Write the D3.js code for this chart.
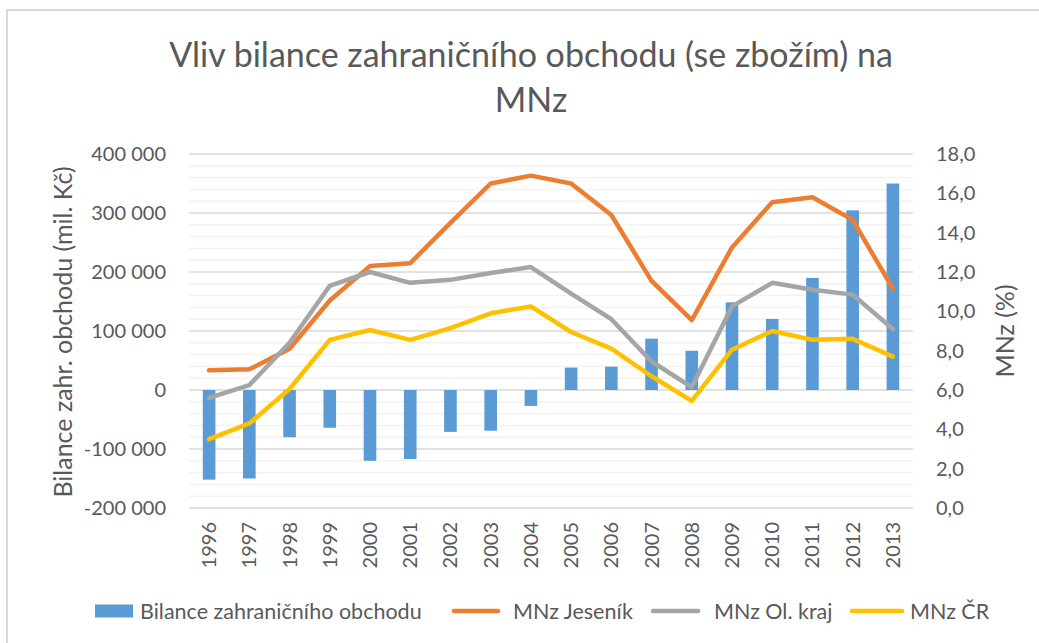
<!DOCTYPE html>
<html>
<head>
<meta charset="utf-8">
<script src="https://cdn.jsdelivr.net/npm/d3@7"></script>
<style>
  html, body { margin: 0; padding: 0; background: #fff; }
  svg { display: block; }
  text { font-family: Lato, "Open Sans", sans-serif; }
</style>
</head>
<body>
<svg id="chart" width="1039" height="643"></svg>
<script>
const years = ["1996","1997","1998","1999","2000","2001","2002","2003","2004","2005","2006","2007","2008","2009","2010","2011","2012","2013"];
const bilance = [-152000,-150000,-80000,-64000,-120000,-117000,-71000,-69000,-27000,38000,39500,87000,66500,148500,120500,190000,304500,350000];
const mnzJesenik = [7.0,7.05,8.1,10.55,12.3,12.45,14.5,16.5,16.9,16.5,14.9,11.55,9.55,13.25,15.55,15.8,14.65,11.15];
const mnzOlKraj = [5.6,6.25,8.4,11.3,12.0,11.45,11.6,11.95,12.25,10.9,9.6,7.45,6.15,10.25,11.45,11.1,10.85,9.1];
const mnzCR = [3.5,4.3,6.05,8.55,9.05,8.55,9.15,9.9,10.25,8.95,8.1,6.7,5.45,8.05,9.0,8.55,8.6,7.7];
const leftTicks = [-200000,-100000,0,100000,200000,300000,400000];
const rightTicks = [0,2,4,6,8,10,12,14,16,18];
const titleLines = ["Vliv bilance zahraničního obchodu (se zbožím) na","MNz"];
const leftTitle = "Bilance zahr. obchodu (mil. Kč)";
const rightTitle = "MNz (%)";
const seriesNames = ["Bilance zahraničního obchodu","MNz Jeseník","MNz Ol. kraj","MNz ČR"];
const colors = ["#5B9BD5","#ED7D31","#A5A5A5","#FFC000"];

const svg = d3.select("#chart");
const plot = {left: 189, right: 913, top: 154, bottom: 508};
const textColor = "#595959";
const fmtLeft = v => d3.format(",")(Math.abs(v)).replace(/,/g, "\u00a0").replace(/^/, v < 0 ? "-" : "");
const fmtRight = v => d3.format(".1f")(v).replace(".", ",");

// chart border
svg.append("rect").attr("x", 7).attr("y", 10).attr("width", 1200).attr("height", 800)
  .attr("fill", "#fff").attr("stroke", "#D9D9D9").attr("stroke-width", 2);

const x = d3.scaleBand().domain(years).range([plot.left, plot.right]).paddingInner(0).paddingOuter(0);
const yL = d3.scaleLinear().domain([-200000, 400000]).range([plot.bottom, plot.top]);
const yR = d3.scaleLinear().domain([0, 18]).range([plot.bottom, plot.top]);

// minor gridlines
const minor = d3.range(-200000, 400001, 20000).filter(v => v % 100000 !== 0);
svg.append("g").selectAll("line").data(minor).join("line")
  .attr("x1", plot.left).attr("x2", plot.right)
  .attr("y1", d => yL(d)).attr("y2", d => yL(d))
  .attr("stroke", "#F2F2F2").attr("stroke-width", 1.5);
// major gridlines
svg.append("g").selectAll("line").data(leftTicks).join("line")
  .attr("x1", plot.left).attr("x2", plot.right)
  .attr("y1", d => yL(d)).attr("y2", d => yL(d))
  .attr("stroke", "#D9D9D9").attr("stroke-width", 1.5);

// bars
const barW = x.bandwidth() / 3.19;
svg.append("g").selectAll("rect").data(bilance).join("rect")
  .attr("x", (d, i) => x(years[i]) + x.bandwidth() / 2 - barW / 2)
  .attr("width", barW)
  .attr("y", d => Math.min(yL(d), yL(0)))
  .attr("height", d => Math.abs(yL(d) - yL(0)))
  .attr("fill", colors[0]);

// lines
const lineGen = d3.line().x((d, i) => x(years[i]) + x.bandwidth() / 2).y(d => yR(d));
[mnzJesenik, mnzOlKraj, mnzCR].forEach((s, k) => {
  svg.append("path").datum(s).attr("d", lineGen)
    .attr("fill", "none").attr("stroke", colors[k + 1]).attr("stroke-width", 4.5)
    .attr("stroke-linejoin", "round").attr("stroke-linecap", "round");
});

// left axis
const axL = svg.append("g").attr("transform", `translate(${plot.left},0)`)
  .call(d3.axisLeft(yL).tickValues(leftTicks).tickFormat(fmtLeft).tickSize(0).tickPadding(23));
axL.select(".domain").remove();
axL.selectAll("text").attr("fill", textColor).style("font-size", "20px").style("font-family", "Lato");

// right axis
const axR = svg.append("g").attr("transform", `translate(${plot.right},0)`)
  .call(d3.axisRight(yR).tickValues(rightTicks).tickFormat(fmtRight).tickSize(0).tickPadding(23));
axR.select(".domain").remove();
axR.selectAll("text").attr("fill", textColor).style("font-size", "20px").style("font-family", "Lato");

// bottom axis
const axB = svg.append("g").attr("transform", `translate(0,${plot.bottom})`)
  .call(d3.axisBottom(x).tickSize(0));
axB.select(".domain").remove();
axB.selectAll("text")
  .attr("fill", textColor).style("font-size", "20px").style("font-family", "Lato")
  .attr("transform", "rotate(-90)")
  .attr("x", -14).attr("y", 0).attr("dy", "0.35em")
  .attr("text-anchor", "end");

// title
svg.append("g").selectAll("text").data(titleLines).join("text")
  .attr("x", 531).attr("y", (d, i) => 67 + i * 45)
  .attr("text-anchor", "middle").attr("fill", textColor)
  .style("font-size", "34px").style("font-weight", 400)
  .text(d => d);

// axis titles
svg.append("text").attr("transform", "translate(72,332) rotate(-90)")
  .attr("text-anchor", "middle").attr("fill", textColor).style("font-size", "25px")
  .text(leftTitle);
svg.append("text").attr("transform", "translate(1014,331) rotate(-90)")
  .attr("text-anchor", "middle").attr("fill", textColor).style("font-size", "25px")
  .text(rightTitle);

// legend
const legY = 611;
const legItems = [
  {type: "rect", x0: 95, x1: 133, tx: 140},
  {type: "line", x0: 452, x1: 500, tx: 513},
  {type: "line", x0: 651, x1: 700, tx: 714},
  {type: "line", x0: 850, x1: 904, tx: 910}
];
const leg = svg.append("g");
legItems.forEach((it, i) => {
  if (it.type === "rect") {
    leg.append("rect").attr("x", it.x0).attr("y", legY - 6.5).attr("width", it.x1 - it.x0).attr("height", 13).attr("fill", colors[i]);
  } else {
    leg.append("line").attr("x1", it.x0 + 2).attr("x2", it.x1 - 2).attr("y1", legY).attr("y2", legY)
      .attr("stroke", colors[i]).attr("stroke-width", 4.5).attr("stroke-linecap", "round");
  }
  leg.append("text").attr("x", it.tx).attr("y", legY).attr("dy", "0.35em")
    .attr("fill", textColor).style("font-size", "21.5px").text(seriesNames[i]);
});
</script>
</body>
</html>
